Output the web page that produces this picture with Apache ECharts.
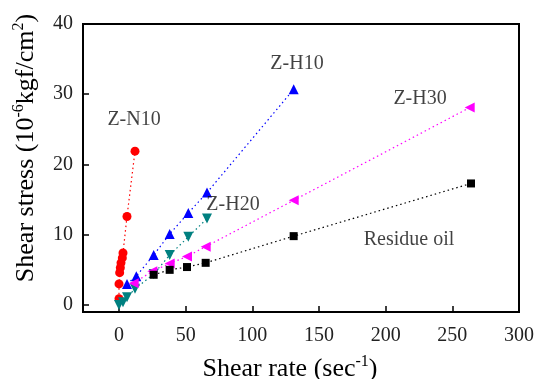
<!DOCTYPE html>
<html>
<head>
<meta charset="utf-8">
<script src="https://cdn.jsdelivr.net/npm/echarts@6/dist/echarts.min.js"></script>
<style>
  html, body { margin: 0; padding: 0; background: #fff; }
  #chart { width: 543px; height: 379px; }
</style>
</head>
<body>
<div id="chart"></div>
<script>
  // shear rate (sec^-1) / shear stress (10^-6 kgf/cm2)
  var zn10X = [0, 0, 0.5, 1, 1.5, 2.5, 3, 6, 12];
  var zn10Y = [0.9, 3.0, 4.6, 5.3, 6.0, 6.7, 7.4, 12.6, 21.9];

  var zh10X = [6, 13, 26, 38, 52, 66, 131];
  var zh10Y = [3.0, 4.1, 7.1, 10.1, 13.1, 16.0, 30.7];

  var zh20X = [0, 3, 6, 12, 26, 38, 52, 66];
  var zh20Y = [0, 0.4, 1.1, 2.3, 4.4, 7.1, 9.7, 12.3];

  var zh30X = [11, 25, 38, 51, 65, 131, 263];
  var zh30Y = [3.1, 4.8, 5.9, 6.9, 8.3, 14.9, 28.1];

  var oilX = [26, 38, 51, 65, 131, 264];
  var oilY = [4.3, 5.0, 5.4, 6.0, 9.8, 17.3];

  var xTicks = [0, 50, 100, 150, 200, 250, 300];
  var yTicks = [0, 10, 20, 30, 40];

  // curve names placed in data coordinates
  var tagNames = ['Z-N10', 'Z-H10', 'Z-H30', 'Z-H20', 'Residue oil'];
  var tagX = [11.3, 133.5, 225.8, 85.5, 217.5];
  var tagY = [26.4, 34.3, 29.4, 14.3, 9.3];

  function pairs(xs, ys) {
    return xs.map(function (x, i) { return [x, ys[i]]; });
  }

  var font = 'Liberation Serif';

  function curve(name, xs, ys, color, symbol, size, rotate) {
    return {
      name: name,
      type: 'line',
      data: pairs(xs, ys),
      symbol: symbol,
      symbolSize: size,
      symbolRotate: rotate || 0,
      showSymbol: true,
      itemStyle: { color: color },
      lineStyle: { color: color, width: 1.2, type: [1.5, 3] },
      z: 3
    };
  }

  var chart = echarts.init(document.getElementById('chart'));

  var option = {
    backgroundColor: '#fff',
    animation: false,
    grid: {
      left: 83, right: 24, top: 24, bottom: 67,
      outerBoundsMode: 'none',
      show: true, borderColor: '#000', borderWidth: 2
    },
    xAxis: {
      type: 'value',
      min: -27, max: 300,
      name: 'Shear rate (sec{sup|-1})',
      nameLocation: 'middle',
      nameGap: 42,
      nameTextStyle: {
        fontFamily: font, fontSize: 26, color: '#000',
        padding: [0, 22, 0, 0], lineHeight: 30,
        rich: { sup: { fontFamily: font, fontSize: 16, verticalAlign: 'top', lineHeight: 18, color: '#000' } }
      },
      axisLine: { onZero: false, lineStyle: { color: '#000', width: 2 } },
      axisTick: { inside: true, length: 6, customValues: xTicks, lineStyle: { color: '#000', width: 1.5 } },
      axisLabel: { customValues: xTicks, fontFamily: font, fontSize: 20, color: '#222', margin: 14 },
      splitLine: { show: false }
    },
    yAxis: {
      type: 'value',
      min: -1, max: 40,
      name: 'Shear stress (10{sup|-6}kgf/cm{sup|2})',
      nameLocation: 'middle',
      nameRotate: 90,
      nameGap: 42,
      nameTextStyle: {
        fontFamily: font, fontSize: 26, color: '#000',
        padding: [0, 0, 0, 40], lineHeight: 30,
        rich: { sup: { fontFamily: font, fontSize: 16, verticalAlign: 'top', lineHeight: 18, color: '#000' } }
      },
      axisLine: { onZero: false, lineStyle: { color: '#000', width: 2 } },
      axisTick: { inside: true, length: 6, customValues: yTicks, lineStyle: { color: '#000', width: 1.5 } },
      axisLabel: { customValues: yTicks, fontFamily: font, fontSize: 20, color: '#222', margin: 10 },
      splitLine: { show: false }
    },
    series: [
      curve('Z-N10', zn10X, zn10Y, '#ff0000', 'circle', 9),
      curve('Z-H10', zh10X, zh10Y, '#0000ff', 'triangle', 10),
      curve('Z-H20', zh20X, zh20Y, '#008080', 'triangle', 10, 180),
      curve('Z-H30', zh30X, zh30Y, '#ff00ff', 'triangle', 10, 90),
      curve('Residue oil', oilX, oilY, '#000000', 'rect', 8),
      {
        name: 'tags',
        type: 'scatter',
        symbolSize: 0,
        silent: true,
        data: tagNames.map(function (n, i) { return { name: n, value: [tagX[i], tagY[i]] }; }),
        label: {
          show: true, position: 'inside',
          formatter: function (p) { return p.name; },
          fontFamily: font, fontSize: 20, color: '#111'
        },
        z: 5
      }
    ]
  };

  chart.setOption(option);
</script>
</body>
</html>
